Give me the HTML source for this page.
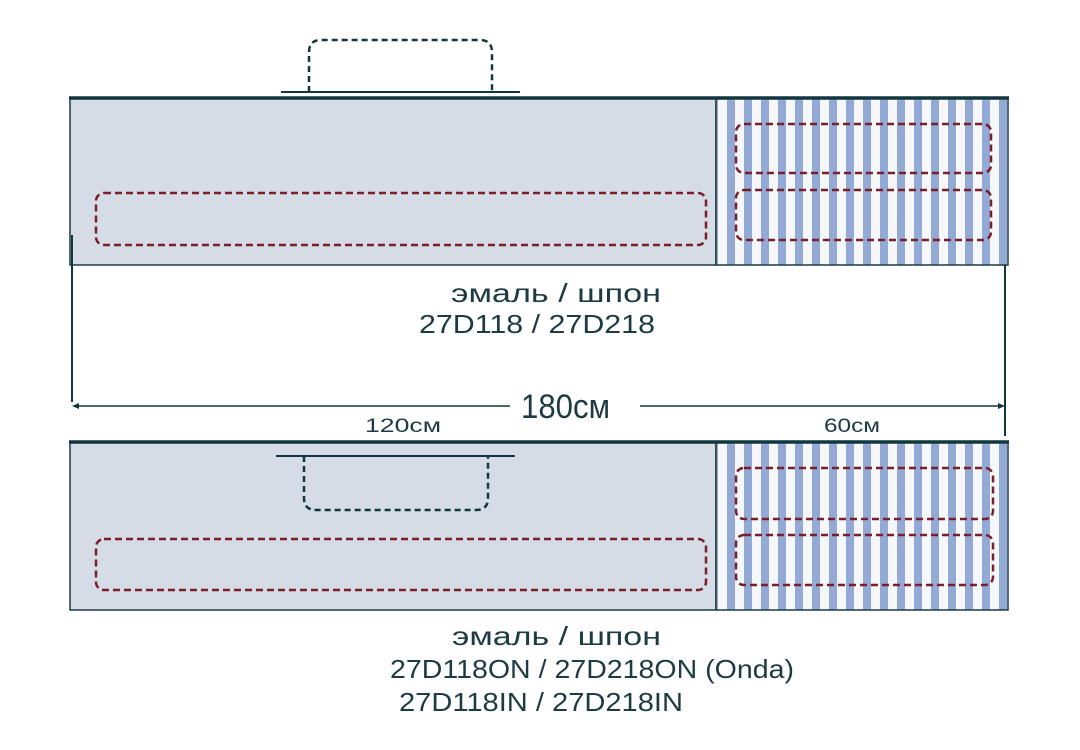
<!DOCTYPE html>
<html><head><meta charset="utf-8"><style>html,body{margin:0;padding:0;background:#fff;}svg{display:block}</style></head>
<body>
<svg width="1080" height="750" viewBox="0 0 1080 750" xmlns="http://www.w3.org/2000/svg" font-family="'Liberation Sans', sans-serif" fill="#1d3b42">
<defs>
<pattern id="st" x="727" y="0" width="17" height="10" patternUnits="userSpaceOnUse">
<rect width="17" height="10" fill="#f5f7fb"/><rect width="8" height="10" fill="#93aad6"/>
</pattern>
</defs>
<!-- top panel -->
<rect x="70" y="98" width="646" height="167" fill="#d5dce6" stroke="#1d3b42" stroke-width="1.5"/>
<rect x="716" y="98" width="292" height="167" fill="url(#st)" stroke="#1d3b42" stroke-width="1.5"/>
<line x1="69" y1="98" x2="1009" y2="98" stroke="#12363d" stroke-width="3.5"/>
<line x1="281" y1="92" x2="520" y2="92" stroke="#12363d" stroke-width="2"/>
<path d="M309 92 V52 Q309 40 321 40 H480 Q492 40 492 52 V92" fill="none" stroke="#12363d" stroke-width="2.5" stroke-dasharray="6 4"/>
<!-- bottom panel -->
<rect x="70" y="442" width="646" height="168" fill="#d5dce6" stroke="#1d3b42" stroke-width="1.5"/>
<rect x="716" y="442" width="292" height="168" fill="url(#st)" stroke="#1d3b42" stroke-width="1.5"/>
<line x1="69" y1="442" x2="1009" y2="442" stroke="#12363d" stroke-width="3.5"/>
<line x1="276" y1="456" x2="515" y2="456" stroke="#12363d" stroke-width="2"/>
<path d="M304 456 V498 Q304 510 316 510 H476 Q488 510 488 498 V456" fill="none" stroke="#12363d" stroke-width="2.5" stroke-dasharray="6 4"/>
<g fill="none" stroke="#7a1f2a" stroke-width="2.5" stroke-dasharray="7 4">
<rect x="96" y="193" width="610" height="52" rx="8"/>
<rect x="736" y="124" width="255" height="49" rx="8"/>
<rect x="736" y="190" width="255" height="50" rx="8"/>
<rect x="96" y="539" width="610" height="51" rx="8"/>
<rect x="736" y="468" width="257" height="51" rx="8"/>
<rect x="736" y="535" width="257" height="50" rx="8"/>
</g>
<!-- dimensions -->
<line x1="72" y1="235" x2="72" y2="402" stroke="#12363d" stroke-width="2"/>
<line x1="1005" y1="265" x2="1005" y2="436" stroke="#12363d" stroke-width="2"/>
<line x1="76" y1="406" x2="510" y2="406" stroke="#12363d" stroke-width="1.5"/>
<line x1="640" y1="406" x2="1000" y2="406" stroke="#12363d" stroke-width="1.5"/>
<path d="M72 406 l7 -3 v6 z M1005 406 l-7 -3 v6 z" fill="#12363d"/>
<text x="521" y="418" font-size="34" textLength="89" lengthAdjust="spacingAndGlyphs">180см</text>
<text x="365" y="432" font-size="19" textLength="76" lengthAdjust="spacingAndGlyphs">120см</text>
<text x="824" y="432" font-size="19" textLength="56" lengthAdjust="spacingAndGlyphs">60см</text>
<!-- labels -->
<g font-size="26">
<text x="451" y="302" textLength="210" lengthAdjust="spacingAndGlyphs">эмаль / шпон</text>
<text x="419" y="333" textLength="236" lengthAdjust="spacingAndGlyphs">27D118 / 27D218</text>
<text x="452" y="645" textLength="209" lengthAdjust="spacingAndGlyphs">эмаль / шпон</text>
<text x="390" y="678" textLength="404" lengthAdjust="spacingAndGlyphs">27D118ON / 27D218ON (Onda)</text>
<text x="399" y="711" textLength="284" lengthAdjust="spacingAndGlyphs">27D118IN / 27D218IN</text>
</g>
</svg>
</body></html>
